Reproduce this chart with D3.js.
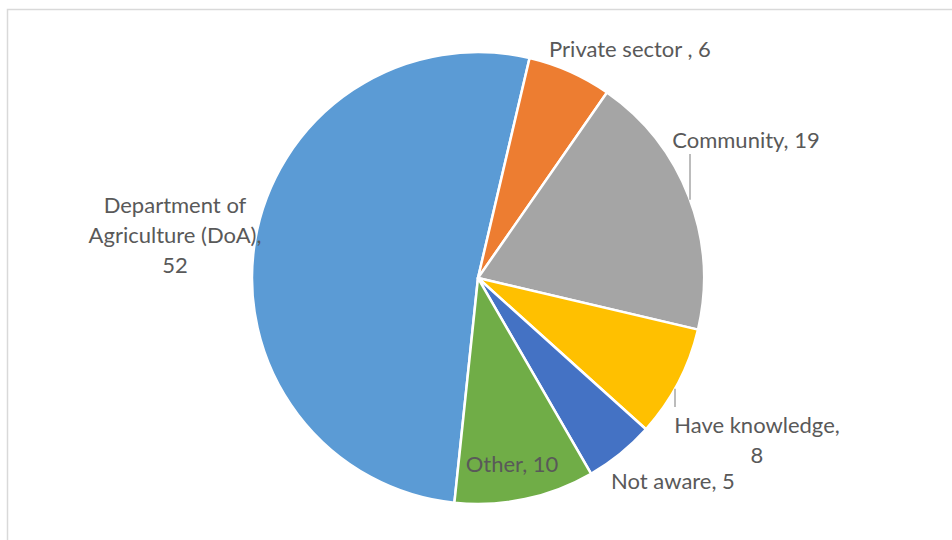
<!DOCTYPE html>
<html>
<head>
<meta charset="utf-8">
<script src="https://cdn.jsdelivr.net/npm/d3@7"></script>
<style>
  html, body { margin: 0; padding: 0; background: #fff; }
  svg { display: block; }
  .lbl { font-family: Lato, "Open Sans", sans-serif; font-size: 22px; fill: #595959; }
</style>
</head>
<body>
<svg id="chart" width="952" height="540"></svg>
<script>
// Respondent sources of information (counts)
const categories = ["Department of Agriculture (DoA)", "Private sector ", "Community", "Have knowledge", "Not aware", "Other"];
const values = [52, 6, 19, 8, 5, 10];
const colors = ["#5B9BD5", "#ED7D31", "#A5A5A5", "#FFC000", "#4472C4", "#70AD47"];
// label text lines for each slice
const labelLines = [
  ["Department of", "Agriculture (DoA),", "52"],
  ["Private sector , 6"],
  ["Community, 19"],
  ["Have knowledge,", "8"],
  ["Not aware, 5"],
  ["Other, 10"]
];

const W = 952, H = 540;
const cx = 478, cy = 278, R = 226;
const svg = d3.select("#chart");

// chart area frame
svg.append("rect")
  .attr("x", 7.5).attr("y", 9.5)
  .attr("width", W + 20).attr("height", H + 20)
  .attr("fill", "#fff")
  .attr("stroke", "#d9d9d9").attr("stroke-width", 1.5);

const data = categories.map((c, i) => ({ name: c, value: values[i], color: colors[i], lines: labelLines[i] }));

const startDeg = 186;
const pie = d3.pie().value(d => d.value).sort(null)
  .startAngle(startDeg * Math.PI / 180)
  .endAngle((startDeg + 360) * Math.PI / 180);
const arcs = pie(data);
const arc = d3.arc().innerRadius(0).outerRadius(R);

const g = svg.append("g").attr("transform", `translate(${cx},${cy})`);
g.selectAll("path.slice").data(arcs).enter().append("path")
  .attr("class", "slice")
  .attr("d", arc)
  .attr("fill", d => d.data.color)
  .attr("stroke", "#fff").attr("stroke-width", 2.5)
  .attr("stroke-linejoin", "round");

// label placement: [dx, dy] of first line centre relative to pie centre
const labelPos = {
  "Department of Agriculture (DoA)": [-303, -73],
  "Private sector ": [152, -229],
  "Community": [268, -138],
  "Have knowledge": [279, 147],
  "Not aware": [195, 203],
  "Other": [34, 186]
};
const lineH = 30;

// leader lines for labels sitting away from their slice
const leaders = {
  "Community": { x: 212, y1: -124 },
  "Have knowledge": { x: 197, y1: 129 }
};
Object.keys(leaders).forEach(k => {
  const L = leaders[k];
  const yEdge = (L.y1 < 0 ? -1 : 1) * Math.sqrt(R * R - L.x * L.x);
  g.append("line")
    .attr("x1", L.x).attr("x2", L.x)
    .attr("y1", L.y1).attr("y2", yEdge)
    .attr("stroke", "#a6a6a6").attr("stroke-width", 1.5);
});

arcs.forEach(a => {
  const p = labelPos[a.data.name];
  const t = g.append("text").attr("class", "lbl").attr("text-anchor", "middle");
  a.data.lines.forEach((ln, i) => {
    t.append("tspan")
      .attr("x", p[0])
      .attr("y", p[1] + i * lineH)
      .attr("dy", "0.35em")
      .text(ln);
  });
});
</script>
</body>
</html>
